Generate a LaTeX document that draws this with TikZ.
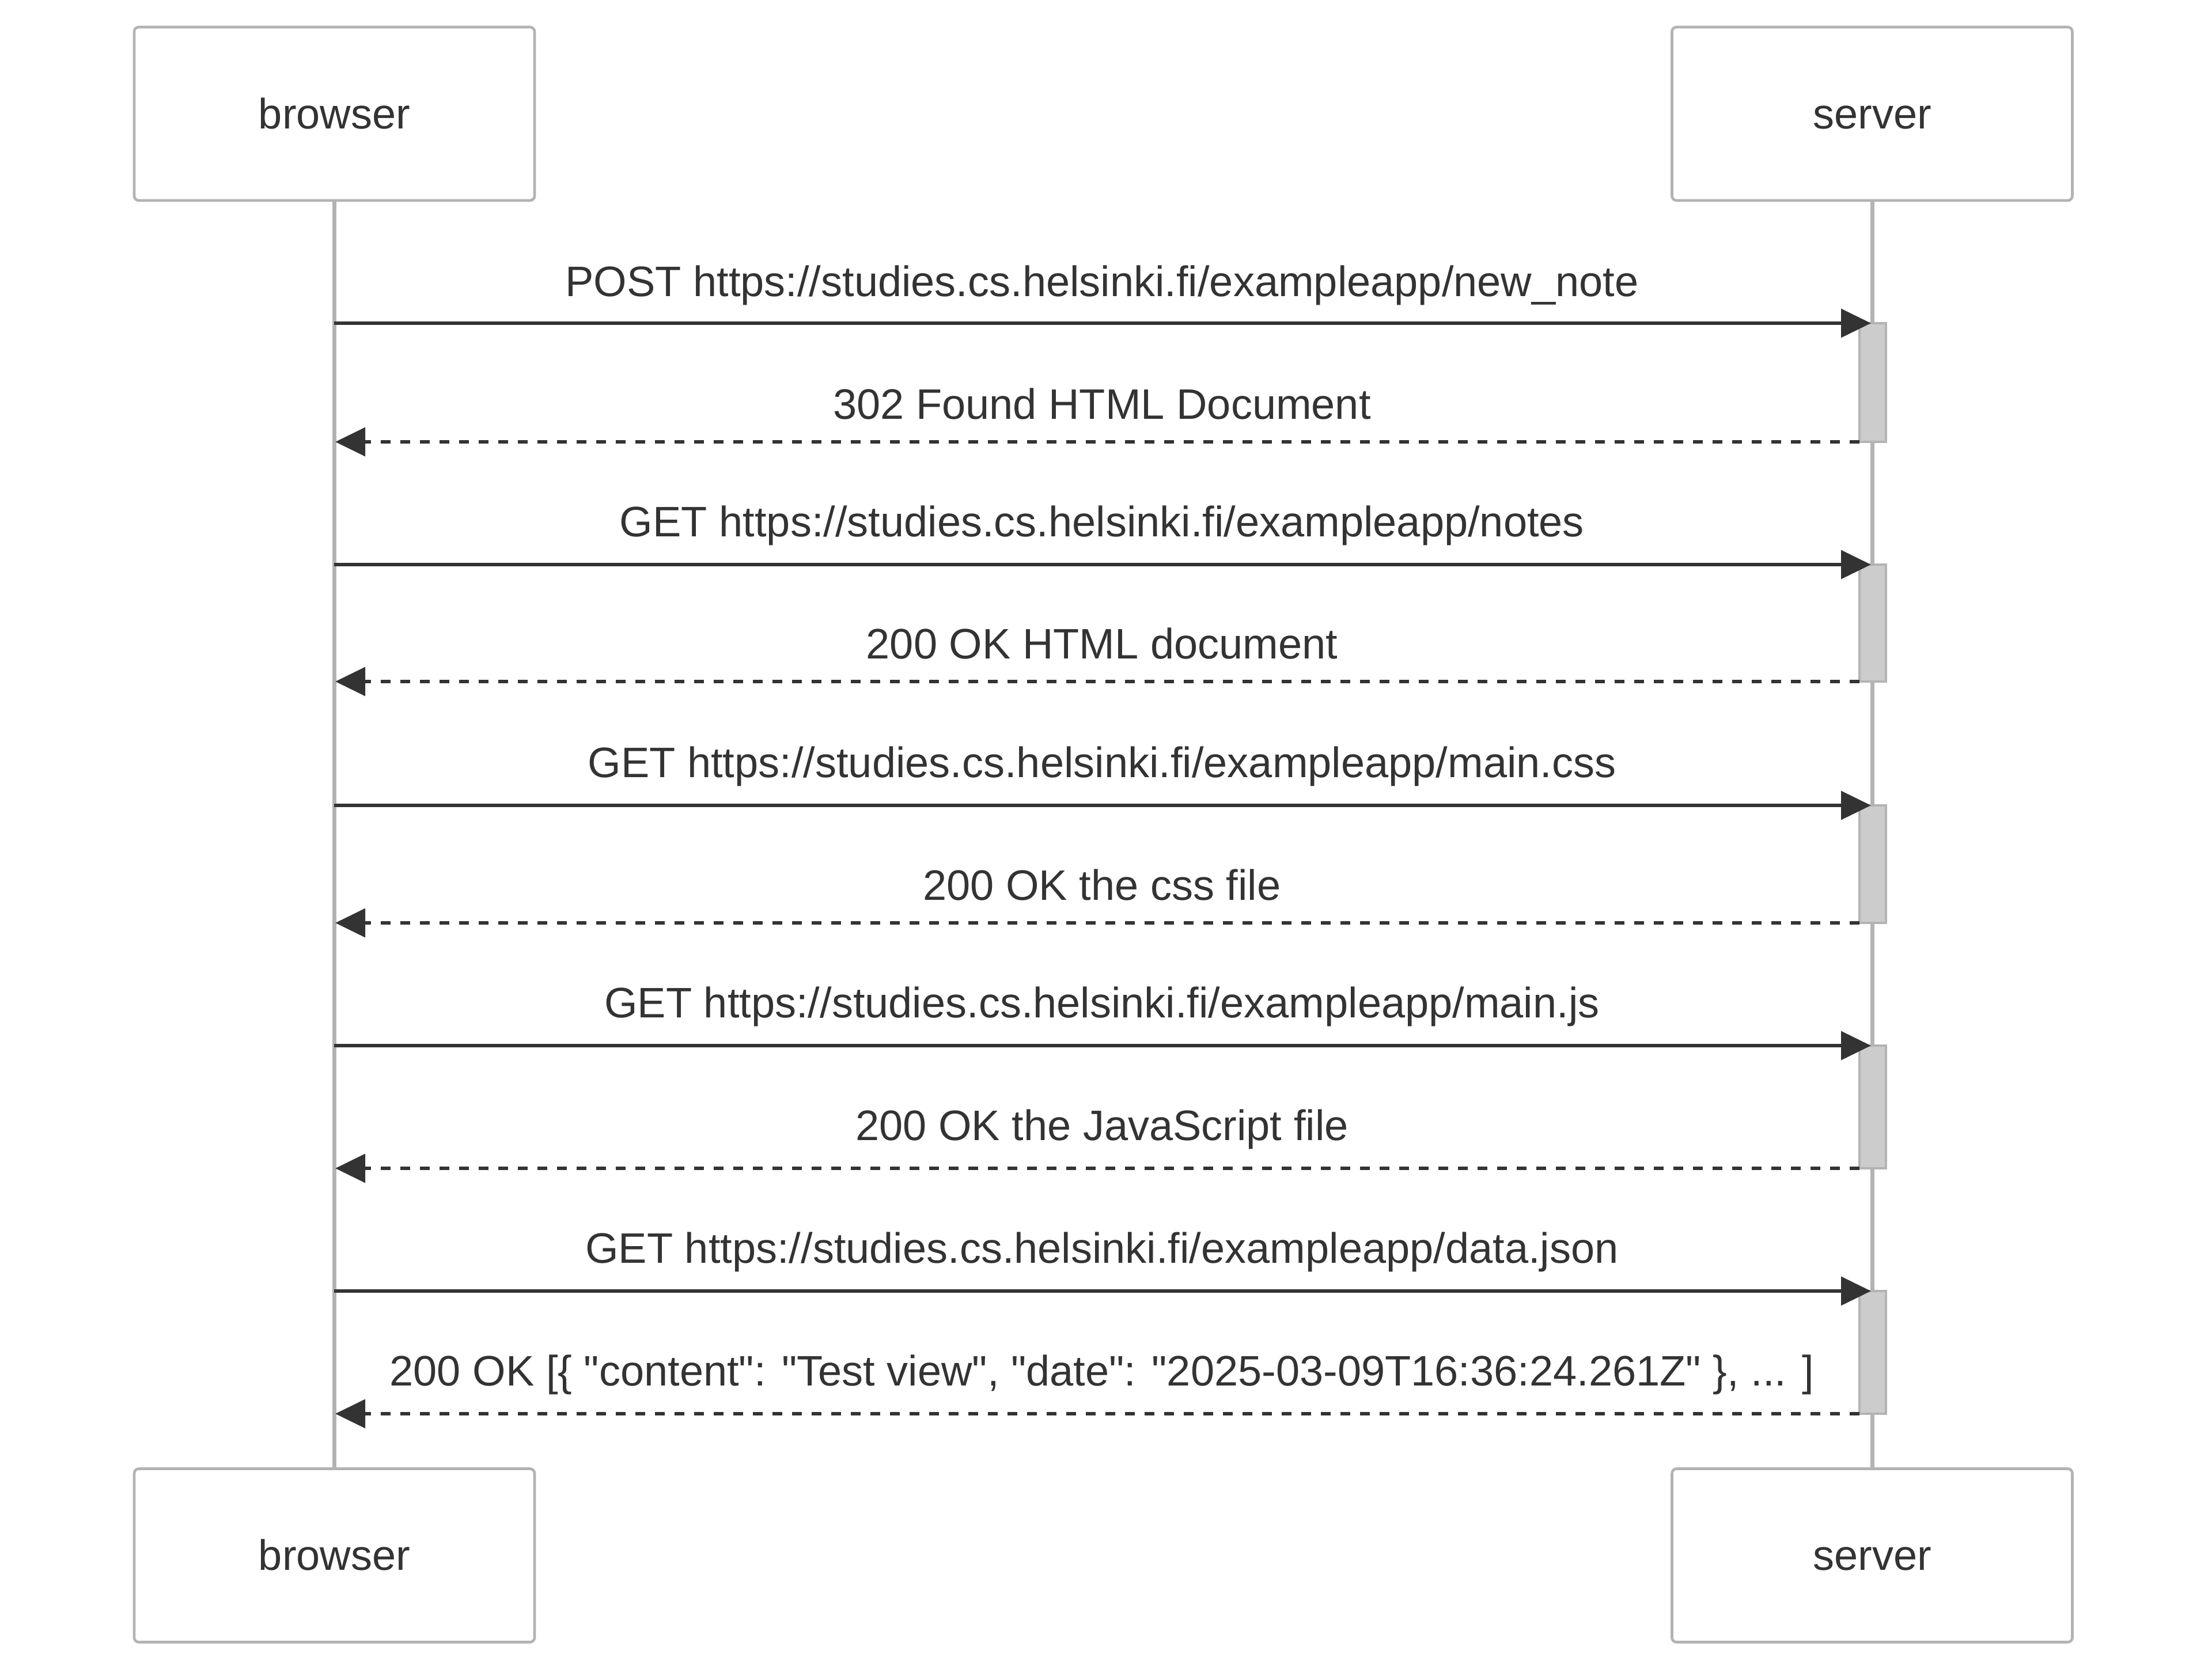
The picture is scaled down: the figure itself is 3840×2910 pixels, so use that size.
\documentclass[tikz,border=0pt]{standalone}
\usepackage{fontspec}
\setmainfont{Liberation Sans}[Ligatures=TeXOff]
\usetikzlibrary{arrows.meta}
\definecolor{ink}{HTML}{333333}
\definecolor{edge}{HTML}{B3B3B3}
\definecolor{actfill}{HTML}{CCCCCC}
\tikzset{
  actor/.style={draw=edge, line width=4.6pt, fill=white, rounded corners=8pt,
    minimum width=695pt, minimum height=301pt, inner sep=0pt,
    text height=51pt, text depth=0pt, text=ink,
    font=\fontsize{74}{88}\selectfont},
  lifeline/.style={draw=edge, line width=7pt},
  actbar/.style={draw=edge, line width=4.6pt, fill=actfill},
  msg/.style={draw=ink, line width=6.5pt, -{Triangle[length=52pt,width=49pt]}},
  reply/.style={msg, dash pattern=on 17pt off 17pt},
  lbl/.style={anchor=base, text=ink, inner sep=0pt, font=\fontsize{74}{88}\selectfont}
}
\begin{document}
\begin{tikzpicture}[x=1pt,y=-1pt]
\useasboundingbox[fill=white] (0,0) rectangle (3840,2910);
% actor anchors (placed first so lifelines can use them)
\path node[actor, draw=none, fill=none, text opacity=0] (bt) at (580.5,197.5) {browser}
      node[actor, draw=none, fill=none, text opacity=0] (st) at (3250,197.5) {server}
      node[actor, draw=none, fill=none, text opacity=0] (bb) at (580.5,2700) {browser}
      node[actor, draw=none, fill=none, text opacity=0] (sb) at (3250,2700) {server};
% lifelines
\draw[lifeline] (bt.south) -- (bb.north);
\draw[lifeline] (st.south) -- (sb.north);
% actor boxes on top
\node[actor] (btb) at (bt) {browser};
\node[actor] (stb) at (st) {server};
\node[actor] (bbb) at (bb) {browser};
\node[actor] (sbb) at (sb) {server};
% message rows
\foreach \i/\y in {1/561,2/767,3/980,4/1183,5/1398,6/1602,7/1815,8/2028,9/2241,10/2454}{
  \coordinate (b\i) at (580,\y);
  \coordinate (a\i) at (3228,\y);
  \coordinate (t\i) at (3248,\y);
  \coordinate (r\i) at (582,\y);
}
% activation bars
\draw[actbar] (3228,561) rectangle (3274,767);
\draw[actbar] (3228,980) rectangle (3274,1183);
\draw[actbar] (3228,1398) rectangle (3274,1602);
\draw[actbar] (3228,1815) rectangle (3274,2028);
\draw[actbar] (3228,2241) rectangle (3274,2454);
% messages
\draw[msg] (b1) -- (t1);
\draw[reply] (a2) -- (r2);
\draw[msg] (b3) -- (t3);
\draw[reply] (a4) -- (r4);
\draw[msg] (b5) -- (t5);
\draw[reply] (a6) -- (r6);
\draw[msg] (b7) -- (t7);
\draw[reply] (a8) -- (r8);
\draw[msg] (b9) -- (t9);
\draw[reply] (a10) -- (r10);
% labels
\node[lbl] (l1) at (1913,514) {POST https://studies.cs.helsinki.fi/exampleapp/new\_note};
\node[lbl] (l2) at (1913,727) {302 Found HTML Document};
\node[lbl] (l3) at (1913,931) {GET https://studies.cs.helsinki.fi/exampleapp/notes};
\node[lbl] (l4) at (1913,1143) {200 OK HTML document};
\node[lbl] (l5) at (1913,1349) {GET https://studies.cs.helsinki.fi/exampleapp/main.css};
\node[lbl] (l6) at (1913,1562) {200 OK the css file};
\node[lbl] (l7) at (1913,1766) {GET https://studies.cs.helsinki.fi/exampleapp/main.js};
\node[lbl] (l8) at (1913,1979) {200 OK the JavaScript file};
\node[lbl] (l9) at (1913,2192) {GET https://studies.cs.helsinki.fi/exampleapp/data.json};
\node[lbl] (l10) at (1913,2405) {200 OK [\{ "content": "Test view", "date": "2025-03-09T16:36:24.261Z" \}, ... ]};
\end{tikzpicture}
\end{document}
